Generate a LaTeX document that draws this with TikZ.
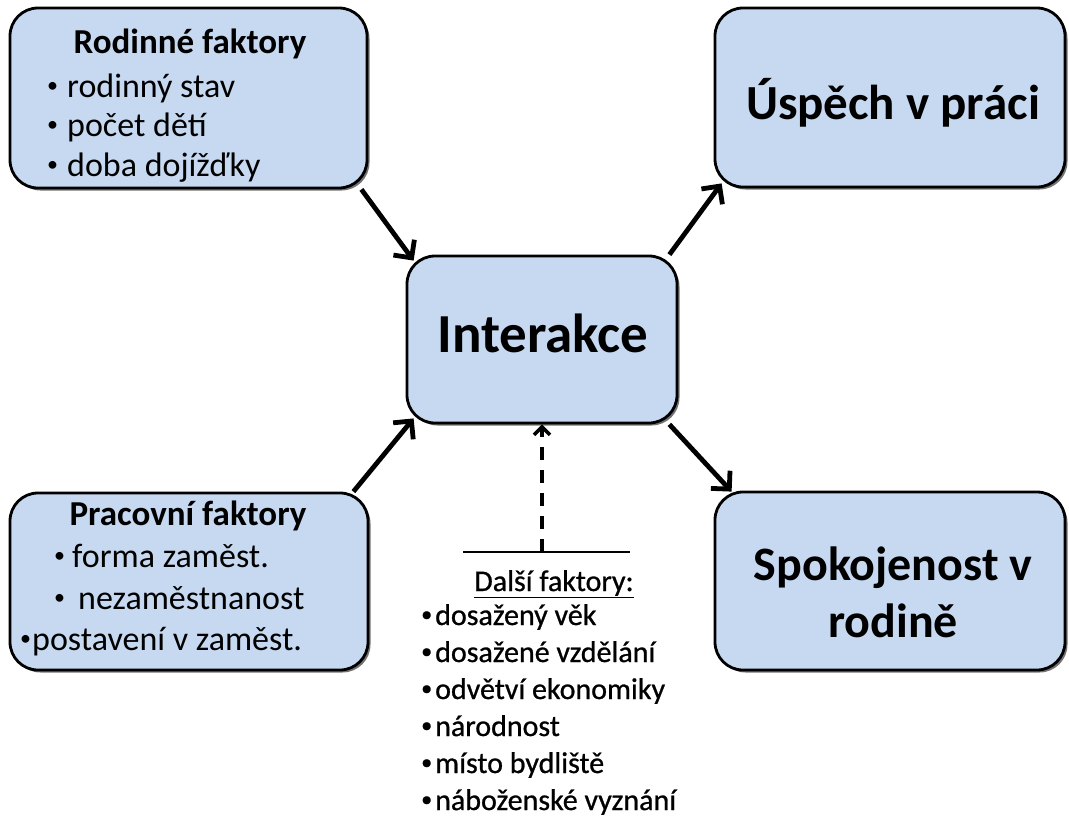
\documentclass[tikz,border=0pt]{standalone}
\usepackage{fontspec}
\setmainfont{Carlito}
\newfontfamily\heavyfont{Carlito}[FakeBold=0.8]
\usetikzlibrary{arrows.meta,calc}
\definecolor{boxfill}{RGB}{198,217,241}
\newcommand{\fs}[1]{\fontsize{#1pt}{#1pt}\selectfont}
\newcommand{\bl}[2]{\makebox[#1pt][l]{\raisebox{0.12em}{\fs{22}•}}#2}
\begin{document}
\begin{tikzpicture}[x=1pt,y=-1pt,
  box/.style={draw=black, line width=2.8pt, fill=boxfill, rounded corners=28pt, inner sep=0pt,
    preaction={fill=black!55, transform canvas={shift={(2.5pt,-2.5pt)}}}},
  titl/.style={font=\fs{35}\bfseries, inner sep=0pt, anchor=base},
  item/.style={font=\fs{34}, inner sep=0pt, anchor=base west},
  small/.style={font=\fs{30}\heavyfont, inner sep=0pt, anchor=base west},
  conn/.style={line width=4.8pt, -{Straight Barb[length=13pt,width=26pt,line width=4.8pt]}},
  dconn/.style={line width=4pt, dash pattern=on 13pt off 10pt, -{Straight Barb[length=8pt,width=16pt,line width=3.5pt]}}
]
\useasboundingbox (0,0) rectangle (1069,820);

% boxes
\node[box, minimum width=357pt, minimum height=180pt] (rf) at (188.5,98) {};
\node[box, minimum width=270pt, minimum height=167pt] (int) at (542,339.5) {};
\node[box, minimum width=358pt, minimum height=177pt] (pf) at (189,581.5) {};
\node[box, minimum width=350pt, minimum height=179pt] (us) at (890,97.5) {};
\node[box, minimum width=350pt, minimum height=178pt] (sp) at (890,581) {};

% Rodinne faktory
\node[titl] (rft) at (190,53) {Rodinné faktory};
\node[item] (rf1) at (47,97) {\bl{20}{rodinný stav}};
\node[item] (rf2) at (47,136) {\bl{20}{počet dětí}};
\node[item] (rf3) at (47,176) {\bl{20}{doba dojížďky}};

% Pracovni faktory
\node[titl] (pft) at (188,525) {Pracovní faktory};
\node[item] (pf1) at (54,567) {\bl{18}{forma zaměst.}};
\node[item] (pf2) at (54,609) {\bl{24}{nezaměstnanost}};
\node[item] (pf3) at (20,650) {\bl{12}{postavení v zaměst.}};

% Interakce and outcomes
\node[font=\fs{55}\bfseries, inner sep=0pt, anchor=base] (intt) at (543,352) {Interakce};
\node[font=\fs{49}\bfseries, inner sep=0pt, anchor=base] (ust) at (893,119) {Úspěch v práci};
\node[font=\fs{48}\bfseries, inner sep=0pt, anchor=base] (spt1) at (893,580) {Spokojenost v};
\node[font=\fs{48}\bfseries, inner sep=0pt, anchor=base] (spt2) at (893,637) {rodině};

% Dalsi faktory
\coordinate (hlL) at (463,552);
\coordinate (hlR) at (630,552);
\coordinate (hlM) at (542,552);
\draw[line width=2.5pt] (hlL) -- (hlR);
\node[font=\fs{30}\heavyfont, inner sep=0pt, anchor=base] (dft) at (554,591) {\underline{Další faktory:}};
\node[small] (d1) at (421,625) {\bl{14}{dosažený věk}};
\node[small] (d2) at (421,662) {\bl{14}{dosažené vzdělání}};
\node[small] (d3) at (421,699) {\bl{14}{odvětví ekonomiky}};
\node[small] (d4) at (421,736) {\bl{14}{národnost}};
\node[small] (d5) at (421,773) {\bl{14}{místo bydliště}};
\node[small] (d6) at (421,810) {\bl{14}{náboženské vyznání}};

% connectors
\draw[conn] ($(rf.south east)+(-7,0)$) -- ($(int.north west)+(8,6)$);
\draw[conn] ($(pf.north east)+(-16,0)$) -- ($(int.south west)+(8,-6)$);
\draw[conn] ($(int.north east)+(-9,0)$) -- ($(us.south west)+(8,-5)$);
\draw[conn] ($(int.south east)+(-9,0)$) -- ($(sp.north west)+(18,1)$);
\draw[dconn] (hlM) -- (hlM |- int.south);
\end{tikzpicture}
\end{document}
